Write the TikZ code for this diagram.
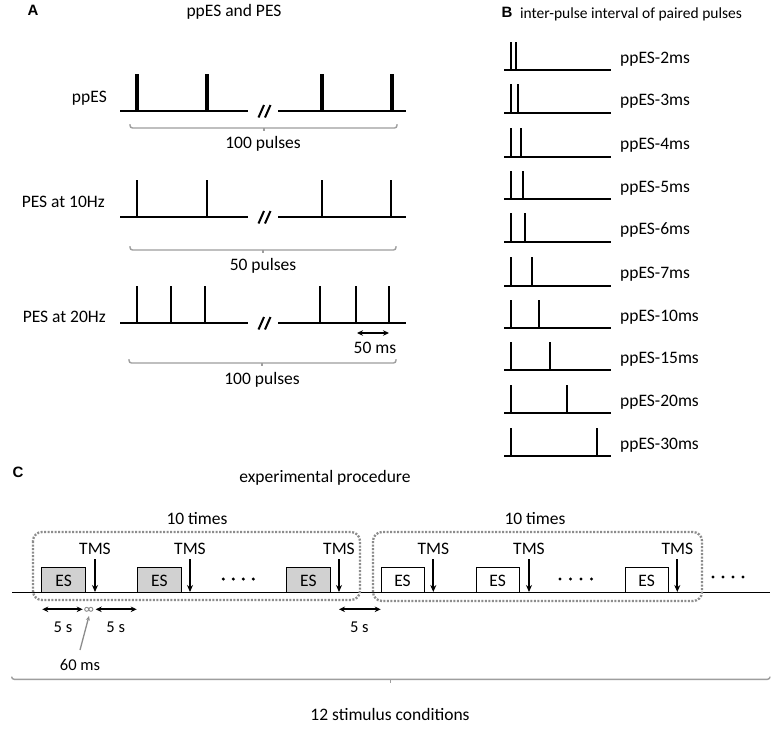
\documentclass[tikz,border=0pt]{standalone}
\usepackage{fontspec}
\setmainfont{Carlito}
\newfontfamily\labfont{Liberation Sans}
\usetikzlibrary{arrows.meta}
\begin{document}
\begin{tikzpicture}[x=1pt,y=-1pt,
  txt/.style={inner sep=0pt,font=\fontsize{17.5}{20}\selectfont},
  smalltxt/.style={inner sep=0pt,font=\fontsize{16.5}{19}\selectfont},
  panel/.style={inner sep=0pt,font=\labfont\bfseries\fontsize{15}{17}\selectfont},
  sig/.style={line width=2pt,black},
  spike/.style={line width=2pt,black},
  ppspike/.style={line width=3.6pt,black},
  breakmark/.style={line width=2pt,black},
  bsig/.style={line width=1.8pt,black},
  bracketline/.style={draw=black!38,line width=1.4pt},
  dotbox/.style={draw=black!45,line width=2.3pt,dash pattern=on 2pt off 1.5pt,rounded corners=9pt},
  esbox/.style={draw=black,line width=1pt},
  tmsarrow/.style={line width=1.8pt,-{Stealth[length=7pt,width=6pt]}},
  dimarrow/.style={line width=1.7pt,{Stealth[length=6pt,width=5.5pt]}-{Stealth[length=6pt,width=5.5pt]}},
]
\useasboundingbox (0,0) rectangle (777,732);
\fill[white] (0,0) rectangle (777,732);

% ---------------- Panel A ----------------
\node[panel,anchor=base] (labA) at (33,15) {A};
\node[txt,anchor=base] (titleA) at (234,16) {ppES and PES};

% ppES row
\node[txt,anchor=base east] (lppes) at (107,102) {ppES};
\draw[sig] (120,111) -- (248,111);
\draw[sig] (278,111) -- (406,111);
\draw[breakmark] (258.5,117.5) -- (264,105) (265,117.5) -- (270.5,105);
\foreach \x in {137,207,322,392} \draw[ppspike] (\x,111) -- (\x,74);
\draw[bracketline,rounded corners=2.5pt] (130,124) |- (397,128) -- (397,124);
\draw[bracketline] (264,128) -- (264,131);
\node[txt,anchor=base] (p100a) at (263,148) {100 pulses};

% PES 10 Hz row
\node[txt,anchor=base east] (l10) at (105,207) {PES at 10Hz};
\draw[sig] (120,216.7) -- (248,216.7);
\draw[sig] (278,216.7) -- (406,216.7);
\draw[breakmark] (258.5,223.5) -- (264,211) (265,223.5) -- (270.5,211);
\foreach \x in {137,207,322,391} \draw[spike] (\x,216.7) -- (\x,180);
\draw[bracketline,rounded corners=2.5pt] (130,246) |- (396,250) -- (396,246);
\draw[bracketline] (263,250) -- (263,253);
\node[txt,anchor=base] (p50) at (263,270) {50 pulses};

% PES 20 Hz row
\node[txt,anchor=base east] (l20) at (106,322.7) {PES at 20Hz};
\draw[sig] (120,322.7) -- (248,322.7);
\draw[sig] (278,322.7) -- (406,322.7);
\draw[breakmark] (258.5,329.5) -- (264,317) (265,329.5) -- (270.5,317);
\foreach \x in {137,171,205,320,356,389} \draw[spike] (\x,322.7) -- (\x,286);
\coordinate (ms50a) at (357,333);
\coordinate (ms50b) at (389,333);
\draw[dimarrow] (ms50a) -- (ms50b);
\node[txt,anchor=base] (l50ms) at (375,353) {50 ms};
\draw[bracketline,rounded corners=2.5pt] (129,359) |- (396,363) -- (396,359);
\draw[bracketline] (262,363) -- (262,366);
\node[txt,anchor=base] (p100b) at (262,384) {100 pulses};

% ---------------- Panel B ----------------
\node[panel,anchor=base] (labB) at (507,17) {B};
\node[inner sep=0pt,font=\fontsize{15.5}{18}\selectfont,anchor=base] (titleB) at (631,18) {inter-pulse interval of paired pulses};
\foreach \yb/\xs/\name in {70/515.7/2, 112.7/518.3/3, 156.7/520.7/4, 199/522.7/5, 241.7/525.3/6, 285.7/531.7/7, 328.3/539/10, 370/550/15, 413.3/567.3/20, 456/597.3/30}{
  \draw[bsig] (504,\yb) -- (611,\yb);
  \draw[bsig] (511,\yb) -- (511,\yb-28.5);
  \draw[bsig] (\xs,\yb) -- (\xs,\yb-28.5);
  \node[txt,anchor=base west] (pp\name) at (620,\yb-7) {ppES-\name ms};
}

% ---------------- Panel C ----------------
\node[panel,anchor=base] (labC) at (18,477) {C};
\node[txt,anchor=base] (titleC) at (325,482) {experimental procedure};

\draw[line width=1.6pt] (12,592.3) -- (770,592.3);

% group 1 (grey ES)
\node[txt,anchor=base] (t10a) at (197,524) {10 times};
\draw[dotbox] (33,532) rectangle (360,600);
\foreach \xa/\xb/\i in {41.7/85.7/1, 137.7/181/2, 286.7/330/3}{
  \draw[esbox,fill=black!18] (\xa,567.3) rectangle (\xb,592.3);
  \node[txt,anchor=base] (esg\i) at ({(\xa+\xb)/2},586) {ES};
}
\foreach \x/\i in {95/1, 190/2, 339/3}{
  \node[txt,anchor=base] (tmsg\i) at (\x,554) {TMS};
  \draw[tmsarrow] (\x,559) -- (\x,592);
}
\foreach \x in {223.3,233.3,243.3,253.3} \fill (\x,579) circle (1.7pt);

% group 2 (white ES)
\node[txt,anchor=base] (t10b) at (535,524) {10 times};
\draw[dotbox] (373,532) rectangle (702,601);
\foreach \xa/\xb/\i in {381/424/1, 476/519.3/2, 625/668.3/3}{
  \draw[esbox,fill=white] (\xa,567.3) rectangle (\xb,592.3);
  \node[txt,anchor=base] (esw\i) at ({(\xa+\xb)/2},586) {ES};
}
\foreach \x/\i in {433.3/1, 529/2, 677.3/3}{
  \node[txt,anchor=base] (tmsw\i) at (\x,554) {TMS};
  \draw[tmsarrow] (\x,559) -- (\x,592);
}
\foreach \x in {560,570.5,581,591.5} \fill (\x,579) circle (1.7pt);
\foreach \x in {713,723,733,743} \fill (\x,577) circle (1.7pt);

% timing arrows
\draw[dimarrow] (42.3,609.3) -- (82.7,609.3);
\draw[dimarrow] (95.7,609.3) -- (136.7,609.3);
\draw[dimarrow] (339,609.3) -- (380.7,609.3);
\draw[black!45,line width=0.9pt] (86.7,609.3) circle (2pt) (90.9,609.3) circle (2pt);
\node[smalltxt,anchor=base] (s5a) at (63,632.3) {5 s};
\node[smalltxt,anchor=base] (s5b) at (115.7,632.3) {5 s};
\node[smalltxt,anchor=base] (s5c) at (359.3,632.3) {5 s};
\node[smalltxt,anchor=base] (ms60) at (80,670) {60 ms};
\draw[black!45,line width=1.3pt,-{Stealth[length=4.5pt,width=4pt]}] (80,650) -- (89,616);

% bracket
\draw[bracketline,rounded corners=2.5pt] (11.7,676.5) |- (770,679.3) -- (770,676.5);
\draw[bracketline] (390.5,679.3) -- (390.5,683);
\node[txt,anchor=base] (cond) at (390,720.7) {12 stimulus conditions};
\end{tikzpicture}
\end{document}
